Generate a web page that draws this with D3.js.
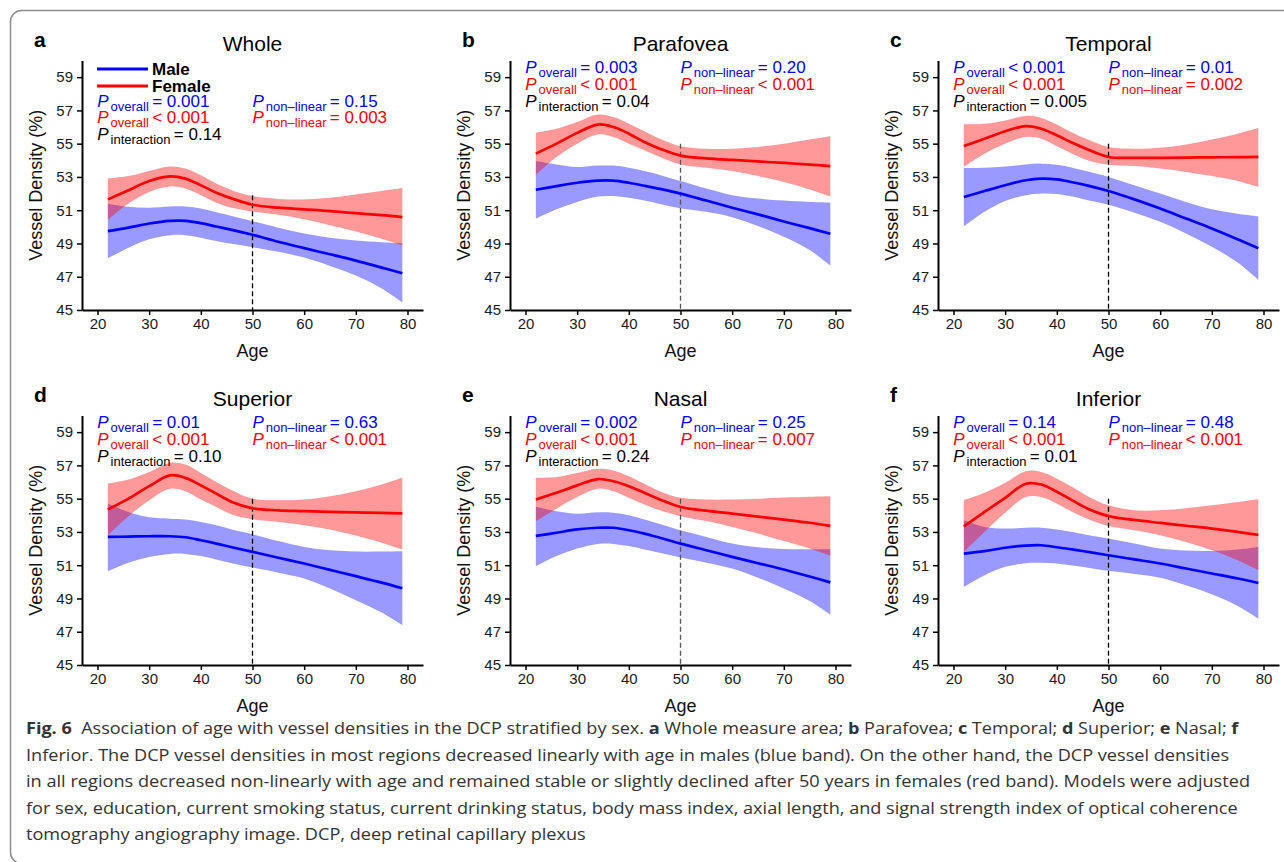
<!DOCTYPE html>
<html>
<head>
<meta charset="utf-8">
<script src="https://cdn.jsdelivr.net/npm/d3@7"></script>
<style>
  html, body { margin: 0; padding: 0; background: #fff; }
  svg { display: block; }
</style>
</head>
<body>
<svg id="fig" width="1284" height="862"></svg>
<script>
// ---- data -------------------------------------------------------------
const ages = [22, 26, 30, 34, 37, 40, 43, 46, 50, 55, 60, 65, 70, 75, 79];
const regions = ["Whole", "Parafovea", "Temporal", "Superior", "Nasal", "Inferior"];
const panelLetters = ["a", "b", "c", "d", "e", "f"];
const xTicks = [20, 30, 40, 50, 60, 70, 80];
const yTicks = [45, 47, 49, 51, 53, 55, 57, 59];
const ageCutoff = 50;
const cutoffTop = [51.9, 55, 55, 55, 55, 55];

// Whole
const wholeMale     = [49.74, 49.95, 50.20, 50.36, 50.36, 50.22, 50.02, 49.82, 49.52, 49.10, 48.72, 48.35, 47.97, 47.55, 47.21];
const wholeMaleLo   = [48.11, 48.75, 49.25, 49.50, 49.50, 49.35, 49.15, 48.98, 48.78, 48.50, 48.15, 47.65, 47.07, 46.30, 45.46];
const wholeMaleHi   = [51.39, 51.20, 51.15, 51.22, 51.22, 51.10, 50.88, 50.65, 50.34, 49.95, 49.60, 49.35, 49.18, 49.08, 49.02];
const wholeFemale   = [51.65, 52.20, 52.75, 53.03, 52.90, 52.50, 52.05, 51.70, 51.33, 51.15, 51.05, 50.95, 50.82, 50.70, 50.58];
const wholeFemaleLo = [50.42, 51.40, 52.10, 52.43, 52.30, 51.90, 51.45, 51.15, 50.92, 50.72, 50.45, 50.10, 49.72, 49.28, 48.88];
const wholeFemaleHi = [52.90, 53.05, 53.35, 53.63, 53.50, 53.10, 52.60, 52.20, 51.85, 51.68, 51.65, 51.75, 51.95, 52.15, 52.33];

// Parafovea
const paraMale      = [52.23, 52.45, 52.65, 52.78, 52.78, 52.65, 52.47, 52.28, 52.00, 51.58, 51.15, 50.75, 50.32, 49.92, 49.58];
const paraMaleLo    = [50.48, 51.05, 51.50, 51.82, 51.85, 51.75, 51.58, 51.38, 51.12, 50.90, 50.58, 50.05, 49.40, 48.60, 47.67];
const paraMaleHi    = [53.96, 53.75, 53.60, 53.68, 53.68, 53.55, 53.35, 53.12, 52.75, 52.30, 51.90, 51.70, 51.58, 51.50, 51.47];
const paraFemale    = [54.40, 55.00, 55.65, 56.15, 56.00, 55.60, 55.10, 54.70, 54.28, 54.12, 54.02, 53.93, 53.84, 53.74, 53.65];
const paraFemaleLo  = [53.13, 54.20, 55.00, 55.55, 55.40, 55.00, 54.60, 54.20, 53.75, 53.55, 53.35, 53.05, 52.70, 52.25, 51.83];
const paraFemaleHi  = [55.66, 55.90, 56.30, 56.75, 56.60, 56.20, 55.75, 55.30, 54.85, 54.70, 54.70, 54.80, 55.00, 55.25, 55.44];

// Temporal
const tempMale      = [51.79, 52.15, 52.50, 52.80, 52.90, 52.85, 52.68, 52.48, 52.15, 51.65, 51.10, 50.50, 49.90, 49.25, 48.71];
const tempMaleLo    = [50.02, 50.90, 51.55, 51.90, 52.00, 51.97, 51.82, 51.60, 51.33, 50.85, 50.30, 49.60, 48.80, 47.85, 46.81];
const tempMaleHi    = [53.53, 53.55, 53.62, 53.75, 53.80, 53.73, 53.55, 53.32, 53.00, 52.50, 52.00, 51.50, 51.05, 50.78, 50.62];
const tempFemale    = [54.86, 55.30, 55.75, 56.05, 55.90, 55.50, 55.05, 54.65, 54.20, 54.15, 54.15, 54.16, 54.18, 54.19, 54.20];
const tempFemaleLo  = [53.61, 54.40, 55.00, 55.40, 55.30, 54.85, 54.40, 54.00, 53.73, 53.65, 53.50, 53.30, 53.05, 52.75, 52.39];
const tempFemaleHi  = [56.16, 56.20, 56.40, 56.67, 56.55, 56.15, 55.65, 55.25, 54.80, 54.70, 54.75, 54.95, 55.25, 55.60, 55.94];

// Superior
const supMale       = [52.70, 52.72, 52.74, 52.74, 52.68, 52.50, 52.30, 52.08, 51.80, 51.45, 51.10, 50.72, 50.34, 49.95, 49.61];
const supMaleLo     = [50.64, 51.15, 51.50, 51.68, 51.68, 51.55, 51.35, 51.12, 50.86, 50.55, 50.20, 49.60, 48.90, 48.15, 47.39];
const supMaleHi     = [54.71, 54.20, 53.88, 53.80, 53.75, 53.60, 53.40, 53.15, 52.86, 52.45, 52.10, 51.90, 51.82, 51.82, 51.84];
const supFemale     = [54.35, 55.00, 55.75, 56.40, 56.25, 55.80, 55.30, 54.80, 54.42, 54.30, 54.25, 54.20, 54.17, 54.14, 54.11];
const supFemaleLo   = [52.80, 53.95, 54.90, 55.60, 55.45, 54.95, 54.50, 54.05, 53.76, 53.60, 53.40, 53.15, 52.78, 52.35, 51.94];
const supFemaleHi   = [55.91, 56.15, 56.60, 57.15, 57.05, 56.55, 56.00, 55.50, 55.00, 54.90, 54.95, 55.15, 55.45, 55.85, 56.27];

// Nasal
const nasMale       = [52.76, 52.95, 53.15, 53.25, 53.25, 53.10, 52.90, 52.65, 52.30, 51.90, 51.50, 51.12, 50.74, 50.32, 49.97];
const nasMaleLo     = [50.94, 51.55, 52.00, 52.28, 52.28, 52.15, 51.95, 51.75, 51.46, 51.15, 50.80, 50.25, 49.60, 48.85, 48.03];
const nasMaleHi     = [54.51, 54.25, 54.10, 54.18, 54.15, 54.00, 53.75, 53.48, 53.10, 52.70, 52.30, 52.08, 51.97, 51.96, 51.96];
const nasFemale     = [54.95, 55.35, 55.80, 56.18, 56.05, 55.75, 55.35, 54.95, 54.50, 54.28, 54.10, 53.92, 53.74, 53.55, 53.36];
const nasFemaleLo   = [53.64, 54.40, 55.10, 55.60, 55.45, 55.05, 54.65, 54.30, 53.95, 53.65, 53.30, 52.90, 52.45, 52.00, 51.56];
const nasFemaleHi   = [56.25, 56.30, 56.55, 56.80, 56.70, 56.35, 55.90, 55.45, 55.05, 54.95, 54.95, 55.00, 55.07, 55.12, 55.15];

// Inferior
const infMale       = [51.70, 51.85, 52.05, 52.18, 52.20, 52.08, 51.95, 51.80, 51.60, 51.35, 51.10, 50.80, 50.50, 50.20, 49.93];
const infMaleLo     = [49.69, 50.40, 50.90, 51.12, 51.14, 51.10, 50.98, 50.85, 50.66, 50.47, 50.25, 49.80, 49.25, 48.55, 47.79];
const infMaleHi     = [53.70, 53.30, 53.20, 53.25, 53.25, 53.15, 53.00, 52.82, 52.60, 52.30, 52.00, 51.88, 51.86, 51.95, 52.10];
const infFemale     = [53.34, 54.20, 55.05, 55.90, 55.85, 55.42, 54.90, 54.40, 53.95, 53.72, 53.54, 53.37, 53.20, 53.00, 52.82];
const infFemaleLo   = [51.80, 53.00, 54.15, 55.10, 55.10, 54.70, 54.20, 53.78, 53.36, 53.10, 52.80, 52.40, 51.90, 51.30, 50.70];
const infFemaleHi   = [54.91, 55.35, 55.95, 56.65, 56.60, 56.20, 55.70, 55.15, 54.60, 54.30, 54.30, 54.42, 54.60, 54.80, 54.97];

// P-values printed in each panel
const pOverallMale    = ["= 0.001", "= 0.003", "< 0.001", "= 0.01", "= 0.002", "= 0.14"];
const pOverallFemale  = ["< 0.001", "< 0.001", "< 0.001", "< 0.001", "< 0.001", "< 0.001"];
const pNonlinMale     = ["= 0.15", "= 0.20", "= 0.01", "= 0.63", "= 0.25", "= 0.48"];
const pNonlinFemale   = ["= 0.003", "< 0.001", "= 0.002", "< 0.001", "= 0.007", "< 0.001"];
const pInteraction    = ["= 0.14", "= 0.04", "= 0.005", "= 0.10", "= 0.24", "= 0.01"];

const maleFits   = [wholeMale, paraMale, tempMale, supMale, nasMale, infMale];
const maleLos    = [wholeMaleLo, paraMaleLo, tempMaleLo, supMaleLo, nasMaleLo, infMaleLo];
const maleHis    = [wholeMaleHi, paraMaleHi, tempMaleHi, supMaleHi, nasMaleHi, infMaleHi];
const femaleFits = [wholeFemale, paraFemale, tempFemale, supFemale, nasFemale, infFemale];
const femaleLos  = [wholeFemaleLo, paraFemaleLo, tempFemaleLo, supFemaleLo, nasFemaleLo, infFemaleLo];
const femaleHis  = [wholeFemaleHi, paraFemaleHi, tempFemaleHi, supFemaleHi, nasFemaleHi, infFemaleHi];

// ---- layout & style ---------------------------------------------------
const FONT = "'Liberation Sans', Arial, Helvetica, sans-serif";
const BLUE = "#0000ff", RED = "#ff0000";
const colLeft = [82, 510, 938];
const rowBottom = [310, 665];
const plotW = 341, plotH = 249.5;
const dashColor = ["#000", "#555", "#000", "#000", "#555", "#000"];

const svg = d3.select("#fig");

// outer frame
svg.append("rect")
  .attr("x", 10.5).attr("y", 10.5)
  .attr("width", 1320).attr("height", 853)
  .attr("rx", 11).attr("ry", 11)
  .attr("fill", "none").attr("stroke", "#8c8c8c").attr("stroke-width", 1.5);

function pLine(g, x, y, color, sub, val) {
  const t = g.append("text")
    .attr("x", x).attr("y", y)
    .attr("fill", color)
    .style("font-family", FONT);
  t.append("tspan").attr("font-style", "italic").attr("font-size", 17).text("P");
  t.append("tspan").attr("font-size", 13).attr("dx", 2).attr("dy", 4).text(sub);
  t.append("tspan").attr("font-size", 17).attr("dx", 3.3).attr("dy", -4).text(val);
}

regions.forEach((name, i) => {
  const col = i % 3, row = Math.floor(i / 3);
  const left = colLeft[col], bottom = rowBottom[row], top = bottom - plotH;

  const x = d3.scaleLinear().domain([17, 83]).range([left, left + plotW]);
  const y = d3.scaleLinear().domain([45, 60]).range([bottom, top]);
  const g = svg.append("g");

  const rowsM = ages.map((a, k) => ({ a, fit: maleFits[i][k], lo: maleLos[i][k], hi: maleHis[i][k] }));
  const rowsF = ages.map((a, k) => ({ a, fit: femaleFits[i][k], lo: femaleLos[i][k], hi: femaleHis[i][k] }));

  const curve = d3.curveCatmullRom.alpha(0.5);
  const band = d3.area().x(d => x(d.a)).y0(d => y(d.lo)).y1(d => y(d.hi)).curve(curve);
  const fitLine = d3.line().x(d => x(d.a)).y(d => y(d.fit)).curve(curve);

  g.append("path").attr("d", band(rowsM)).attr("fill", BLUE).attr("fill-opacity", 0.4);
  g.append("path").attr("d", band(rowsF)).attr("fill", RED).attr("fill-opacity", 0.4);

  // age-50 reference line
  g.append("line")
    .attr("x1", x(ageCutoff)).attr("x2", x(ageCutoff))
    .attr("y1", y(cutoffTop[i])).attr("y2", y(45))
    .attr("stroke", dashColor[i]).attr("stroke-width", 1.3)
    .attr("stroke-dasharray", "5,3");

  g.append("path").attr("d", fitLine(rowsM)).attr("fill", "none")
    .attr("stroke", BLUE).attr("stroke-width", 2.7);
  g.append("path").attr("d", fitLine(rowsF)).attr("fill", "none")
    .attr("stroke", RED).attr("stroke-width", 2.7);

  // axes
  const xAxis = g.append("g").attr("transform", `translate(0,${bottom})`)
    .call(d3.axisBottom(x).tickValues(xTicks).tickSize(5).tickSizeOuter(0).tickPadding(3));
  const yAxis = g.append("g").attr("transform", `translate(${left},0)`)
    .call(d3.axisLeft(y).tickValues(yTicks).tickSize(5).tickSizeOuter(0).tickPadding(4));
  [xAxis, yAxis].forEach(ax => {
    ax.select(".domain").attr("stroke", "#000").attr("stroke-width", 2);
    ax.selectAll(".tick line").attr("stroke", "#000").attr("stroke-width", 1.5);
    ax.selectAll(".tick text").attr("fill", "#1a1a1a")
      .style("font-family", FONT).style("font-size", "15px");
  });

  // titles and axis labels
  g.append("text").attr("x", left + plotW / 2).attr("y", top - 9.5)
    .attr("text-anchor", "middle").style("font-family", FONT).style("font-size", "21px")
    .attr("fill", "#000").text(name);
  g.append("text").attr("x", left - 48).attr("y", top - 13.5)
    .style("font-family", FONT).style("font-size", "21px").style("font-weight", "bold")
    .attr("fill", "#000").text(panelLetters[i]);
  g.append("text").attr("x", left + plotW / 2).attr("y", bottom + 46.5)
    .attr("text-anchor", "middle").style("font-family", FONT).style("font-size", "18px")
    .attr("fill", "#111").text("Age");
  g.append("text")
    .attr("transform", `translate(${left - 40},${(top + bottom) / 2}) rotate(-90)`)
    .attr("text-anchor", "middle").style("font-family", FONT).style("font-size", "18px")
    .attr("fill", "#111").text("Vessel Density (%)");

  // legend (first panel only)
  let textTop = top + 12.7;
  if (i === 0) {
    [["Male", BLUE], ["Female", RED]].forEach(([lab, c], k) => {
      const ly = top + 8.5 + k * 17;
      g.append("line").attr("x1", left + 15).attr("x2", left + 66)
        .attr("y1", ly).attr("y2", ly).attr("stroke", c).attr("stroke-width", 3);
      g.append("text").attr("x", left + 70).attr("y", ly + 6)
        .style("font-family", FONT).style("font-size", "17px").style("font-weight", "bold")
        .attr("fill", "#000").text(lab);
    });
    textTop += 33.6;
  }

  const lx = x(20) - 0.3, rx = x(50);
  pLine(g, lx, textTop, BLUE, "overall", pOverallMale[i]);
  pLine(g, lx, textTop + 16.65, RED, "overall", pOverallFemale[i]);
  pLine(g, lx, textTop + 33.3, "#000", "interaction", pInteraction[i]);
  pLine(g, rx, textTop, BLUE, "non\u2013linear", pNonlinMale[i]);
  pLine(g, rx, textTop + 16.65, RED, "non\u2013linear", pNonlinFemale[i]);
});

// ---- caption ----------------------------------------------------------
const CAP_FONT = "'Open Sans', 'Noto Sans', sans-serif";
const captionLines = [
  [["Fig. 6", true], ["\u00a0\u00a0Association of age with vessel densities in the DCP stratified by sex. ", false],
   ["a", true], [" Whole measure area; ", false], ["b", true], [" Parafovea; ", false],
   ["c", true], [" Temporal; ", false], ["d", true], [" Superior; ", false],
   ["e", true], [" Nasal; ", false], ["f", true]],
  [["Inferior. The DCP vessel densities in most regions decreased linearly with age in males (blue band). On the other hand, the DCP vessel densities", false]],
  [["in all regions decreased non-linearly with age and remained stable or slightly declined after 50 years in females (red band). Models were adjusted", false]],
  [["for sex, education, current smoking status, current drinking status, body mass index, axial length, and signal strength index of optical coherence", false]],
  [["tomography angiography image. DCP, deep retinal capillary plexus", false]]
];
const captionRight = [1239, 1230, 1251, 1239, null];
const capX = 26, capY0 = 734, capStep = 26.6;

let lastScale = 1;
captionLines.forEach((parts, k) => {
  const t = svg.append("text").attr("x", 0).attr("y", 0)
    .style("font-family", CAP_FONT).style("font-size", "16px")
    .attr("fill", "#333").attr("xml:space", "preserve");
  parts.forEach(([s, b]) => {
    t.append("tspan").style("font-weight", b ? "bold" : "normal").text(s);
  });
  const natural = t.node().getComputedTextLength();
  const sx = captionRight[k] ? (captionRight[k] - capX) / natural : lastScale;
  lastScale = sx;
  t.attr("transform", `translate(${capX},${capY0 + k * capStep}) scale(${sx},1)`);
});
</script>
</body>
</html>
